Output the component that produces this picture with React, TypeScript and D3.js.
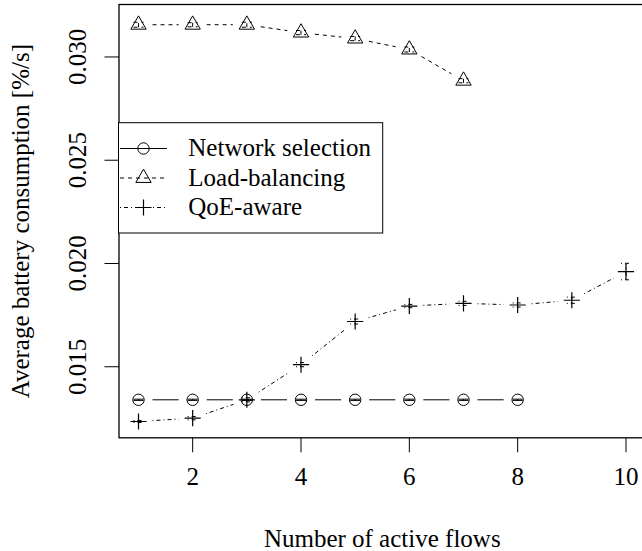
import React, { useEffect, useRef } from 'react';
import * as d3 from 'd3';

// number of active flows
const flows = [1, 2, 3, 4, 5, 6, 7, 8, 9, 10];

// average battery consumption [%/s]
const networkSelection = [0.0134, 0.0134, 0.0134, 0.0134, 0.0134, 0.0134, 0.0134, 0.0134];
const networkErr = [0.00003, 0.00003, 0.00003, 0.00003, 0.00003, 0.00003, 0.00003, 0.00003];

const loadBalancing = [0.03156, 0.03156, 0.03156, 0.03118, 0.03089, 0.03036, 0.02885];
const loadErr = [0.00012, 0.0001, 0.00012, 0.0001, 0.0001, 0.00012, 0.0001];

const qoeAware = [0.01235, 0.01251, 0.0134, 0.0151, 0.01719, 0.01794, 0.01807, 0.01799, 0.01822, 0.01961];
const qoeErr = [0.00005, 0.00008, 0.0001, 0.0001, 0.00012, 0.00008, 0.0001, 0.0001, 0.00015, 0.0004];

const xTicks = [2, 4, 6, 8, 10];
const yTicks = [0.015, 0.02, 0.025, 0.03];

const series = [
  { name: 'Network selection', values: networkSelection, err: networkErr, dash: null, pch: 'circle' },
  { name: 'Load-balancing', values: loadBalancing, err: loadErr, dash: '4,4', pch: 'triangle' },
  { name: 'QoE-aware', values: qoeAware, err: qoeErr, dash: '1,3,4,3', pch: 'plus' },
];

const width = 642, height = 551;
const margin = { top: 4.5, right: -3.5, bottom: 113.2, left: 119 };
const font = '"Liberation Serif", "Times New Roman", serif';
const fontSize = 25;
const R = 5.7; // R's symbol radius for cex = 1
const gap = 14; // type = "b" gap around points

function drawSymbol(g: any, kind: string, cx: number, cy: number) {
  if (kind === 'circle') {
    g.append('circle').attr('cx', cx).attr('cy', cy).attr('r', R).attr('fill', 'none').attr('stroke', '#000').attr('stroke-width', 1);
  } else if (kind === 'triangle') {
    const r = 1.5551 * R, yc = 0.7776 * R, xc = 1.3468 * R;
    g.append('path')
      .attr('d', `M${cx},${cy - r}L${cx + xc},${cy + yc}L${cx - xc},${cy + yc}Z`)
      .attr('fill', 'none').attr('stroke', '#000').attr('stroke-width', 1);
  } else {
    const s = Math.SQRT2 * R;
    g.append('path')
      .attr('d', `M${cx - s},${cy}H${cx + s}M${cx},${cy - s}V${cy + s}`)
      .attr('fill', 'none').attr('stroke', '#000').attr('stroke-width', 1.2);
  }
}

export default function App() {
  const ref = useRef<SVGSVGElement>(null);

  useEffect(() => {
    const svg = d3.select(ref.current);
    svg.selectAll('*').remove();

    const x = d3.scaleLinear().domain([0.64, 10.36]).range([margin.left, width - margin.right]);
    const y = d3.scaleLinear().domain([0.01156, 0.03254]).range([height - margin.bottom, margin.top]);

    const plot = svg.append('g');

    series.forEach(s => {
      const pts = s.values.map((v, i) => [x(flows[i]), y(v)]);
      // connecting segments with gaps
      for (let i = 0; i < pts.length - 1; i++) {
        const [x0, y0] = pts[i], [x1, y1] = pts[i + 1];
        const d = Math.hypot(x1 - x0, y1 - y0);
        if (d <= 2 * gap) continue;
        const ux = (x1 - x0) / d, uy = (y1 - y0) / d;
        plot.append('line')
          .attr('x1', x0 + ux * gap).attr('y1', y0 + uy * gap)
          .attr('x2', x1 - ux * gap).attr('y2', y1 - uy * gap)
          .attr('stroke', '#000').attr('stroke-width', 1)
          .attr('stroke-dasharray', s.dash);
      }
      // error bars
      s.values.forEach((v, i) => {
        const cx = x(flows[i]), lo = y(v - s.err[i]), hi = y(v + s.err[i]);
        const eb = plot.append('g').attr('stroke', '#000').attr('stroke-width', 1).attr('stroke-dasharray', s.dash);
        eb.append('line').attr('x1', cx).attr('x2', cx).attr('y1', lo).attr('y2', hi);
        eb.append('line').attr('x1', cx - 5).attr('x2', cx + 5).attr('y1', lo).attr('y2', lo);
        eb.append('line').attr('x1', cx - 5).attr('x2', cx + 5).attr('y1', hi).attr('y2', hi);
      });
      pts.forEach(([px, py]) => drawSymbol(plot, s.pch, px, py));
    });

    // box
    svg.append('rect')
      .attr('x', margin.left).attr('y', margin.top)
      .attr('width', width - margin.right - margin.left)
      .attr('height', height - margin.bottom - margin.top)
      .attr('fill', 'none').attr('stroke', '#000').attr('stroke-width', 1.3);

    // x axis
    const xAxis = svg.append('g');
    xTicks.forEach(t => {
      xAxis.append('line').attr('x1', x(t)).attr('x2', x(t))
        .attr('y1', height - margin.bottom).attr('y2', height - margin.bottom + 14.5)
        .attr('stroke', '#000').attr('stroke-width', 1);
      xAxis.append('text').attr('x', x(t)).attr('y', 485)
        .attr('text-anchor', 'middle').style('font-family', font).style('font-size', fontSize + 'px')
        .text(d3.format('d')(t));
    });

    // y axis
    const yAxis = svg.append('g');
    yTicks.forEach(t => {
      yAxis.append('line').attr('x1', margin.left - 14.5).attr('x2', margin.left)
        .attr('y1', y(t)).attr('y2', y(t))
        .attr('stroke', '#000').attr('stroke-width', 1);
      yAxis.append('text')
        .attr('transform', `translate(86,${y(t)}) rotate(-90)`)
        .attr('text-anchor', 'middle').style('font-family', font).style('font-size', fontSize + 'px')
        .text(d3.format('.3f')(t));
    });

    // axis titles
    svg.append('text')
      .attr('x', (margin.left + width - margin.right) / 2).attr('y', 547)
      .attr('text-anchor', 'middle').style('font-family', font).style('font-size', fontSize + 'px')
      .text('Number of active flows');
    svg.append('text')
      .attr('transform', `translate(29,${(margin.top + height - margin.bottom) / 2}) rotate(-90)`)
      .attr('text-anchor', 'middle').style('font-family', font).style('font-size', fontSize + 'px')
      .text('Average battery consumption [%/s]');

    // legend
    const legend = svg.append('g');
    legend.append('rect').attr('x', 118.5).attr('y', 122.7).attr('width', 264.2).attr('height', 110.3)
      .attr('fill', '#fff').attr('stroke', '#000').attr('stroke-width', 1);
    series.forEach((s, i) => {
      const ly = 148.5 + i * 29.5;
      legend.append('line').attr('x1', 120).attr('x2', 167).attr('y1', ly).attr('y2', ly)
        .attr('stroke', '#000').attr('stroke-width', 1).attr('stroke-dasharray', s.dash);
      drawSymbol(legend, s.pch, 143.5, ly);
      legend.append('text').attr('x', 188.3).attr('y', ly + 7.5)
        .style('font-family', font).style('font-size', fontSize + 'px')
        .text(s.name);
    });
  }, []);

  return (
    <svg ref={ref} width={width} height={height}
      style={{ position: 'absolute', left: 0, top: 0, background: '#fff' }} />
  );
}
